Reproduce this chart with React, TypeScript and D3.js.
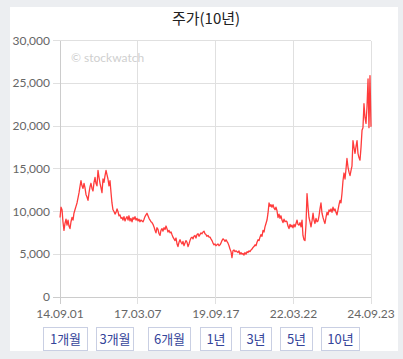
import * as d3 from 'd3';
import React, { useRef, useEffect } from 'react';

// price in thousands of won, one reading per ~12 days from 2014-09-01 to 2024-09-23
const prices = [
  9.3, 10.5, 10.2, 8.8, 7.8, 8.6, 9.1, 8.4, 9.0, 8.3, 8.0, 8.8, 9.3, 9.0, 9.8, 10.2, 10.6, 11.0, 11.6, 12.2,
  12.9, 13.6, 13.0, 12.7, 13.3, 12.8, 12.0, 11.7, 11.3, 12.2, 12.9, 13.3, 12.7, 12.4, 13.4, 14.0, 13.3, 13.0, 14.8, 14.0,
  13.3, 12.8, 12.2, 13.8, 13.4, 14.2, 14.8, 14.3, 13.8, 13.0, 13.6, 12.2, 11.0, 10.2, 10.0, 9.7, 9.9, 10.3, 10.0, 9.5,
  9.6, 9.2, 9.3, 9.0, 9.4, 8.9, 9.2, 9.4, 9.0, 9.5, 8.9, 9.2, 8.8, 9.3, 9.1, 9.4, 9.0, 9.2, 8.9, 9.1,
  8.8, 9.0, 8.9, 8.8, 9.1, 9.4, 9.6, 9.8, 9.5, 9.2, 9.0, 8.8, 8.7, 8.5, 8.2, 7.8, 7.5, 8.1, 7.9, 7.4,
  7.2, 7.8, 8.0, 7.7, 8.1, 7.9, 8.3, 8.0, 7.6, 7.8, 7.5, 7.6, 7.3, 7.0, 6.8, 6.6, 6.9, 6.2, 5.9, 6.4,
  6.7, 6.4, 6.2, 6.5, 6.0, 6.3, 6.6, 6.4, 5.9, 6.2, 6.6, 6.9, 7.0, 6.8, 7.1, 7.2, 6.9, 7.3, 7.4, 7.1,
  7.3, 7.5, 7.4, 7.6, 7.7, 7.4, 7.3, 7.1, 7.2, 7.0, 7.0, 6.8, 6.6, 6.3, 6.1, 6.2, 6.0, 6.1, 6.2, 6.0,
  6.1, 6.3, 6.6, 6.8, 6.7, 6.5, 6.7, 6.5, 6.3, 6.0, 5.6, 5.3, 4.6, 5.4, 5.5, 5.3, 5.4, 5.3, 5.2, 5.4,
  5.0, 5.2, 5.0, 5.1, 4.9, 5.2, 5.0, 5.3, 5.2, 5.4, 5.3, 5.5, 5.6, 5.8, 5.9, 6.1, 6.0, 6.4, 6.7, 6.6,
  7.0, 7.3, 7.1, 7.8, 7.6, 8.2, 8.6, 9.0, 9.8, 11.0, 10.6, 10.8, 10.5, 10.8, 10.4, 10.2, 10.5, 10.1, 9.3, 9.7,
  9.2, 9.5, 9.0, 8.7, 9.1, 8.8, 8.9, 8.8, 8.3, 8.0, 8.5, 8.2, 8.4, 8.1, 8.5, 8.2, 8.6, 9.0, 8.5, 8.4,
  8.7, 8.2, 9.0, 7.2, 6.7, 6.6, 8.5, 12.1, 10.5, 9.3, 8.8, 8.2, 8.9, 9.8, 9.0, 8.6, 9.2, 8.8, 8.9, 9.5,
  10.3, 11.0, 9.8, 9.3, 8.9, 8.6, 9.3, 9.9, 9.6, 10.2, 10.0, 10.3, 9.9, 10.5, 10.1, 10.3, 9.9, 9.6, 10.2, 10.8,
  11.3, 11.0, 12.1, 13.6, 14.5, 13.8, 15.0, 16.2, 15.2, 14.6, 14.2, 14.8, 15.3, 18.3, 17.5, 16.8, 17.6, 18.3, 16.8, 16.3,
  16.0, 17.5, 19.5, 19.8, 22.6, 21.0, 20.3, 22.3, 25.5, 19.8, 25.9, 19.9,
];

const startDate = '2014-09-01';
const endDate = '2024-09-23';
const xTicks = ['2014-09-01', '2017-03-07', '2019-09-17', '2022-03-22', '2024-09-23'];
const yTicks = [0, 5000, 10000, 15000, 20000, 25000, 30000];
const buttons = ['1개월', '3개월', '6개월', '1년', '3년', '5년', '10년'];
const buttonX = [43, 96, 148, 200, 240, 280, 321];
const buttonW = [44, 37, 42, 31, 31, 32, 38];

const W = 403, H = 359;

export default function App() {
  const svgRef = useRef(null);

  useEffect(() => {
    if (!svgRef.current) return;
    const svg = d3.select(svgRef.current);
    svg.selectAll('*').remove();

    const parse = d3.timeParse('%Y-%m-%d');
    const t0 = parse(startDate)!, t1 = parse(endDate)!;
    const totalDays = d3.timeDay.count(t0, t1);
    const data = prices.map((p, i) => ({
      date: d3.timeDay.offset(t0, Math.round((i * totalDays) / (prices.length - 1))),
      value: p * 1000,
    }));

    const font = 'Lato, "Noto Sans", "Noto Sans CJK KR", sans-serif';

    // backdrop + panel
    svg.append('rect').attr('width', W).attr('height', H).attr('fill', '#eceef1');
    svg.append('rect').attr('x', 10).attr('y', 7).attr('width', 388).attr('height', 344).attr('fill', '#fff');

    const x = d3.scaleTime().domain([t0, t1]).range([60, 371]);
    const y = d3.scaleLinear().domain([0, 30000]).range([297, 40.5]);

    // title
    svg.append('text')
      .attr('x', 206).attr('y', 24)
      .attr('text-anchor', 'middle')
      .attr('font-family', '"Noto Sans CJK KR", "Noto Sans", sans-serif')
      .attr('font-size', 15)
      .attr('fill', '#222')
      .text('주가(10년)');

    // horizontal grid + y labels
    const g = svg.append('g');
    yTicks.forEach((v) => {
      g.append('line')
        .attr('x1', 53).attr('x2', 371)
        .attr('y1', y(v)).attr('y2', y(v))
        .attr('stroke', v === 0 ? '#ccc' : '#e0e0e0')
        .attr('shape-rendering', 'crispEdges');
      g.append('text')
        .attr('x', 50).attr('y', y(v) + 4)
        .attr('text-anchor', 'end')
        .attr('font-family', font).attr('font-size', 12)
        .attr('fill', '#666')
        .text(d3.format(',')(v));
    });

    // vertical grid + x labels
    const fmt = d3.timeFormat('%y.%m.%d');
    xTicks.forEach((s) => {
      const d = parse(s)!;
      g.append('line')
        .attr('x1', x(d)).attr('x2', x(d))
        .attr('y1', 40.5).attr('y2', 304)
        .attr('stroke', '#e0e0e0')
        .attr('shape-rendering', 'crispEdges');
      g.append('text')
        .attr('x', x(d)).attr('y', 318)
        .attr('text-anchor', 'middle')
        .attr('font-family', font).attr('font-size', 12)
        .attr('fill', '#666')
        .text(fmt(d));
    });
    g.append('line')
      .attr('x1', 60).attr('x2', 60).attr('y1', 40.5).attr('y2', 304)
      .attr('stroke', '#ccc').attr('shape-rendering', 'crispEdges');

    // watermark
    svg.append('text')
      .attr('x', 71).attr('y', 62)
      .attr('font-family', font).attr('font-size', 12)
      .attr('fill', '#cfcfcf')
      .text('© stockwatch');

    // price line
    const line = d3.line<{ date: Date; value: number }>()
      .x((d) => x(d.date))
      .y((d) => y(d.value));
    svg.append('path')
      .datum(data)
      .attr('d', line)
      .attr('fill', 'none')
      .attr('stroke', '#ff3b3b')
      .attr('stroke-width', 1.3)
      .attr('stroke-linejoin', 'round');

    // period buttons
    buttons.forEach((b, i) => {
      const bg = svg.append('g');
      bg.append('rect')
        .attr('x', buttonX[i] + 0.5).attr('y', 327.5)
        .attr('width', buttonW[i]).attr('height', 23)
        .attr('fill', '#fff')
        .attr('stroke', '#c9cfe3');
      bg.append('text')
        .attr('x', buttonX[i] + buttonW[i] / 2 + 0.5).attr('y', 344)
        .attr('text-anchor', 'middle')
        .attr('font-family', '"Noto Sans CJK KR", "Noto Sans", sans-serif')
        .attr('font-size', 13)
        .attr('fill', '#34449a')
        .text(b);
    });
  }, []);

  return (
    <div style={{ position: 'fixed', left: 0, top: 0 }}>
      <svg ref={svgRef} width={W} height={H} style={{ display: 'block' }} />
    </div>
  );
}
